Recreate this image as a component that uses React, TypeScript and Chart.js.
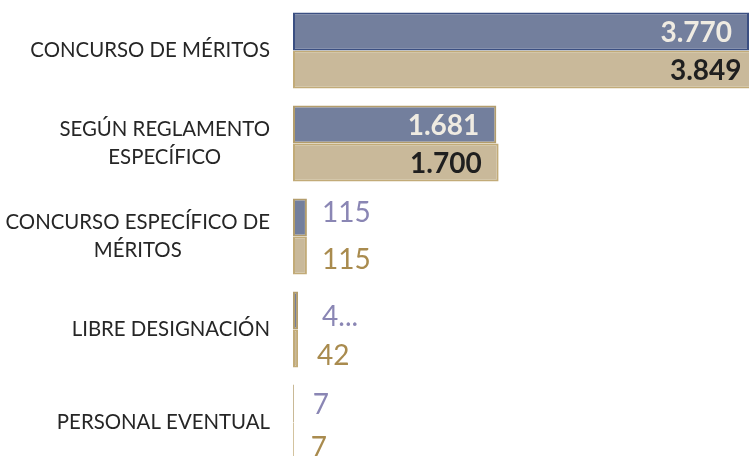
import React, { useEffect, useRef } from "react";
import { Chart, registerables } from "chart.js";

Chart.register(...registerables);

const categories: string[][] = [
  ["CONCURSO DE MÉRITOS"],
  ["SEGÚN REGLAMENTO", "ESPECÍFICO"],
  ["CONCURSO ESPECÍFICO DE", "MÉRITOS"],
  ["LIBRE DESIGNACIÓN"],
  ["PERSONAL EVENTUAL"],
];
const seriesA: number[] = [3770, 1681, 115, 42, 7];
const seriesB: number[] = [3849, 1700, 115, 42, 7];
const labelsA: string[] = ["3.770", "1.681", "115", "4...", "7"];
const labelsB: string[] = ["3.849", "1.700", "115", "42", "7"];
const axisMax = 3770;

// label placement tweaks (style only)
const offXA = [17, 17, 15, 24, 19];
const offXB = [17, 17, 15, 19, 17];
const offYA = [1, 1, -5, 6, 1];
const offYB = [1, 1, 4, 7, 6];

const FONT = "Lato, 'DejaVu Sans', sans-serif";

const catLabelPlugin = {
  id: "catLabels",
  afterDraw(chart: any) {
    const ctx = chart.ctx;
    const y = chart.scales.y;
    ctx.save();
    ctx.font = `20.4px ${FONT}`;
    ctx.fillStyle = "#262626";
    ctx.textBaseline = "middle";
    ctx.textAlign = "center";
    const right = 270;
    const lh = 28.5;
    categories.forEach((lines, i) => {
      const cy = y.getPixelForValue(i);
      const w = Math.max(...lines.map((l) => ctx.measureText(l).width));
      const cx = right - w / 2;
      const y0 = cy - ((lines.length - 1) * lh) / 2;
      lines.forEach((l, j) => ctx.fillText(l, cx, y0 + j * lh));
    });
    ctx.restore();
  },
};

const valueLabelPlugin = {
  id: "valueLabels",
  afterDatasetsDraw(chart: any) {
    const ctx = chart.ctx;
    const sets = [
      { labels: labelsA, inside: "#efebe2", outside: "#8a86b4", ox: offXA, oy: offYA },
      { labels: labelsB, inside: "#1f1f1f", outside: "#a98b4e", ox: offXB, oy: offYB },
    ];
    ctx.save();
    ctx.textBaseline = "middle";
    sets.forEach((s, di) => {
      const meta = chart.getDatasetMeta(di);
      const values = chart.data.datasets[di].data as number[];
      meta.data.forEach((bar: any, i: number) => {
        const v = values[i];
        if (v > 1000) {
          ctx.font = `bold 28px ${FONT}`;
          ctx.fillStyle = s.inside;
          ctx.textAlign = "right";
          ctx.fillText(s.labels[i], bar.x - s.ox[i], bar.y + s.oy[i]);
        } else {
          ctx.font = `28px ${FONT}`;
          ctx.fillStyle = s.outside;
          ctx.textAlign = "left";
          ctx.fillText(s.labels[i], bar.x + s.ox[i], bar.y + s.oy[i]);
        }
      });
    });
    ctx.restore();
  },
};

export default function App() {
  const ref = useRef<HTMLCanvasElement | null>(null);
  useEffect(() => {
    if (!ref.current) return;
    const chart = new Chart(ref.current, {
      type: "bar",
      data: {
        labels: categories.map((c) => c.join(" ")),
        datasets: [
          {
            data: seriesA,
            backgroundColor: "#737f9d",
            borderColor: ["#3b4f82", "#b39d6c", "#b39d6c", "#b39d6c", "#b39d6c"],
            borderWidth: 2,
            borderSkipped: false,
            categoryPercentage: 0.817,
            barPercentage: 1,
          },
          {
            data: seriesB,
            backgroundColor: "#c9b99a",
            borderColor: "#c2ab78",
            borderWidth: 2,
            borderSkipped: false,
            categoryPercentage: 0.817,
            barPercentage: 1,
          },
        ],
      },
      options: {
        indexAxis: "y",
        responsive: false,
        animation: false,
        devicePixelRatio: 1,
        layout: { padding: { top: 4, bottom: 0, left: 0, right: 0 } },
        plugins: { legend: { display: false }, tooltip: { enabled: false } },
        scales: {
          x: { display: false, min: 0, max: axisMax },
          y: {
            display: true,
            grid: { display: false },
            border: { display: false },
            ticks: { display: false },
            afterFit: (scale: any) => {
              scale.width = 293;
            },
          },
        },
      },
      plugins: [catLabelPlugin, valueLabelPlugin],
    });
    return () => chart.destroy();
  }, []);
  return (
    <div
      style={{
        position: "fixed",
        left: 0,
        top: 0,
        width: 749,
        height: 456,
        overflow: "hidden",
        background: "#fff",
      }}
    >
      <canvas ref={ref} width={749} height={469} style={{ display: "block" }} />
    </div>
  );
}
